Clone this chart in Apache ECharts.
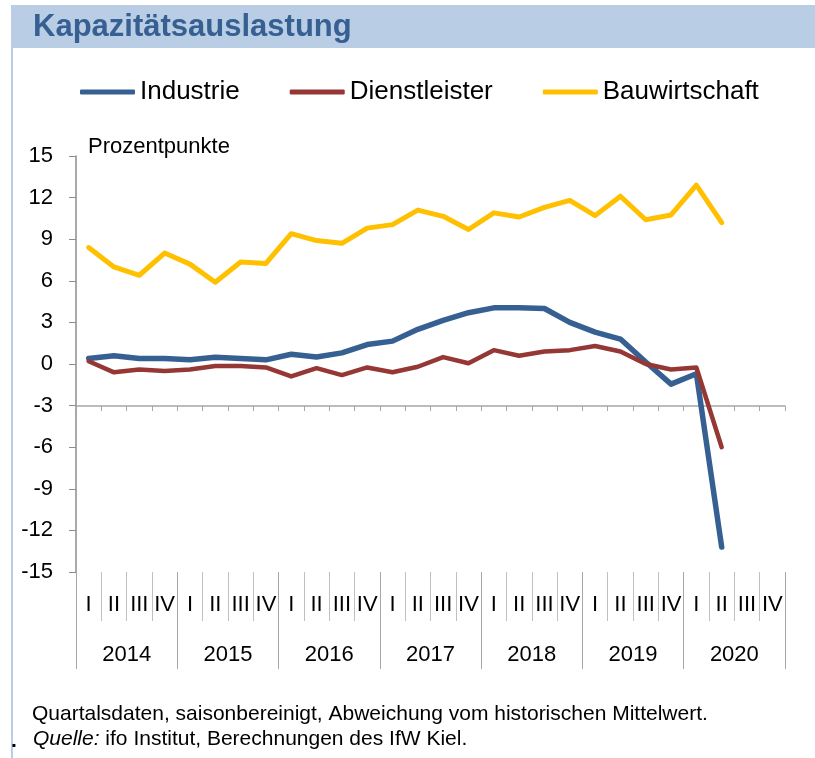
<!DOCTYPE html>
<html>
<head>
<meta charset="utf-8">
<title>Kapazitätsauslastung</title>
<script src="https://cdn.jsdelivr.net/npm/echarts@6/dist/echarts.min.js"></script>
<style>
  html, body { margin: 0; padding: 0; background: #fff; }
  #chart { width: 815px; height: 758px; }
</style>
</head>
<body>
<div id="chart"></div>
<script>
// Quartale 2014 I bis 2020 IV
var years = ['2014', '2015', '2016', '2017', '2018', '2019', '2020']
var quarterNames = ['I', 'II', 'III', 'IV']
var quarters = []
years.forEach(function (y) {
  quarterNames.forEach(function (q) { quarters.push(q) })
})

// Abweichung vom historischen Mittelwert, Prozentpunkte (bis 2020 II)
var industrie = [0.4, 0.6, 0.4, 0.4, 0.3, 0.48, 0.4, 0.3, 0.7, 0.5, 0.8, 1.4, 1.65, 2.5, 3.15, 3.7, 4.05, 4.05, 4.0, 3.0, 2.3, 1.8, 0.15, -1.45, -0.7, -13.2]
var dienstleister = [0.2, -0.6, -0.4, -0.5, -0.4, -0.15, -0.15, -0.25, -0.9, -0.3, -0.8, -0.25, -0.6, -0.2, 0.5, 0.05, 1.0, 0.6, 0.9, 1.0, 1.3, 0.9, 0.0, -0.4, -0.25, -6.0]
var bauwirtschaft = [8.4, 7.0, 6.4, 8.0, 7.2, 5.9, 7.35, 7.25, 9.4, 8.9, 8.7, 9.8, 10.05, 11.1, 10.65, 9.7, 10.9, 10.6, 11.3, 11.8, 10.7, 12.1, 10.4, 10.75, 12.9, 10.2]

var font = 'Liberation Sans, Arial, sans-serif'
var band = '#b9cde5'

var chart = echarts.init(document.getElementById('chart'))
chart.setOption({
  animation: false,
  textStyle: { fontFamily: font },
  color: ['#376092', '#953735', '#ffc000'],
  graphic: [
    { type: 'rect', shape: { x: 11, y: 5, width: 804, height: 43 }, style: { fill: band } },
    { type: 'rect', shape: { x: 11, y: 48, width: 2, height: 710 }, style: { fill: band } },
    {
      type: 'text', x: 33, y: 27,
      style: { text: 'Kapazitätsauslastung', fill: '#376092', font: 'bold 31px ' + font, verticalAlign: 'middle' }
    },
    {
      type: 'text', x: 88, y: 147,
      style: { text: 'Prozentpunkte', fill: '#000', font: '22px ' + font, verticalAlign: 'middle' }
    },
    {
      type: 'text', x: 32, y: 714,
      style: { text: 'Quartalsdaten, saisonbereinigt, Abweichung vom historischen Mittelwert.', fill: '#000', font: '21px ' + font, verticalAlign: 'middle' }
    },
    {
      type: 'text', x: 33, y: 739,
      style: {
        text: '{i|Quelle:} ifo Institut, Berechnungen des IfW Kiel.',
        fill: '#000', font: '21px ' + font, verticalAlign: 'middle',
        rich: { i: { fontStyle: 'italic', fontSize: 21, fontFamily: font } }
      }
    },
    {
      type: 'text', x: 11, y: 741,
      style: { text: '.', fill: '#000', font: 'bold 21px ' + font, verticalAlign: 'middle' }
    }
  ],
  legend: {
    left: 75,
    top: 74,
    itemGap: 50,
    itemWidth: 55,
    itemHeight: 5,
    icon: 'roundRect',
    textStyle: { fontSize: 26, color: '#000', fontFamily: font },
    data: ['Industrie', 'Dienstleister', 'Bauwirtschaft']
  },
  grid: {
    left: 76,
    right: 30,
    top: 156,
    bottom: 186
  },
  xAxis: [{
    // Quartale
    type: 'category',
    position: 'bottom',
    data: quarters,
    axisLine: { show: false, onZero: false },
    axisTick: { show: true, interval: 0, length: 49, lineStyle: { color: '#bfbfbf' } },
    axisLabel: { interval: 0, margin: 22, fontSize: 22, color: '#000' }
  }, {
    // Jahre
    type: 'category',
    position: 'bottom',
    data: years,
    axisLine: { show: false, onZero: false },
    axisTick: { show: true, interval: 0, length: 97, lineStyle: { color: '#a6a6a6' } },
    axisLabel: { interval: 0, margin: 72, fontSize: 22, color: '#000' }
  }, {
    // Achse bei -3
    type: 'category',
    position: 'bottom',
    offset: -166,
    data: quarters,
    axisLine: { show: true, onZero: false, lineStyle: { color: '#a6a6a6', width: 1.5 } },
    axisTick: { show: true, interval: 0, length: 5, lineStyle: { color: '#a6a6a6' } },
    axisLabel: { show: false }
  }],
  yAxis: {
    type: 'value',
    min: -15,
    max: 15,
    interval: 3,
    axisLine: { show: true, lineStyle: { color: '#8c8c8c', width: 1.5 } },
    axisTick: { show: true, length: 7, lineStyle: { color: '#8c8c8c' } },
    axisLabel: { margin: 23, fontSize: 22, color: '#000' },
    splitLine: { show: false }
  },
  series: [{
    name: 'Industrie',
    type: 'line',
    xAxisIndex: 0,
    data: industrie,
    showSymbol: false,
    symbol: 'none',
    lineStyle: { width: 5.5, cap: 'round', join: 'round' }
  }, {
    name: 'Dienstleister',
    type: 'line',
    xAxisIndex: 0,
    data: dienstleister,
    showSymbol: false,
    symbol: 'none',
    lineStyle: { width: 4.5, cap: 'round', join: 'round' }
  }, {
    name: 'Bauwirtschaft',
    type: 'line',
    xAxisIndex: 0,
    data: bauwirtschaft,
    showSymbol: false,
    symbol: 'none',
    lineStyle: { width: 5, cap: 'round', join: 'round' }
  }]
})
</script>
</body>
</html>
